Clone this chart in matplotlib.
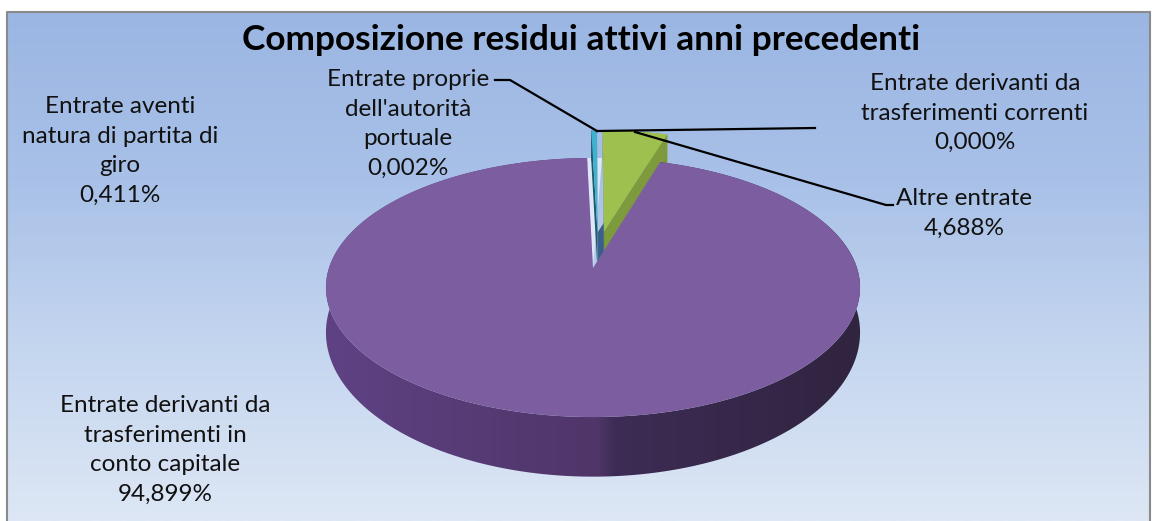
import numpy as np
import matplotlib
matplotlib.use("Agg")
import matplotlib.pyplot as plt
from matplotlib.colors import LinearSegmentedColormap
from matplotlib.patches import Polygon

title = "Composizione residui attivi anni precedenti"
categories = ["Altre entrate",
              "Entrate derivanti da\ntrasferimenti correnti",
              "Entrate proprie\ndell'autorità\nportuale",
              "Entrate derivanti da\ntrasferimenti in\nconto capitale",
              "Entrate aventi\nnatura di partita di\ngiro"]
values = [4.688, 0.000, 0.002, 94.899, 0.411]
top_colors = ["#9dc04f", "#c0504d", "#4f81bd", "#7c5ea0", "#3fb2d0"]
side_colors = ["#7d9a3c", "#8c3a38", "#3a5f8c", "#4f3568", "#1f5a6c"]
explode_u = [0.044, 0.02, 0.02, 0.0, 0.018]
explode_v = [0.297, 0.297, 0.297, 0.0, 0.297]
label_x = [964, 975, 408, 165, 120]
label_y = [213, 113, 124, 450, 151]

W, H = 1156, 521
CX, CY = 593, 268
R, B, K, D = 264, 126.6, 0.1506, 43.0

def project(u, v):
    s = 1 + K * v
    return CX + R * u / s, CY - B * v / s

def drop(v):
    return D / (1 + K * v) ** 2

fig = plt.figure(figsize=(W / 100, H / 100), dpi=100, facecolor="white")
ax = fig.add_axes([0, 0, 1, 1])
ax.axis("off")

cmap = LinearSegmentedColormap.from_list("bg", ["#9bb6e3", "#a9c1e8", "#c5d6ef", "#dde7f5"])
ax.imshow(np.linspace(0, 1, 256).reshape(-1, 1), cmap=cmap, aspect="auto",
          extent=(6.5, 1150, 521, 11.5), zorder=0)
ax.plot([6.5, 6.5, 1150, 1150], [521, 11.5, 11.5, 521], color="#8a8a8a", lw=1.5, zorder=1)

fractions = np.array(values) / sum(values) * 360
ends = np.cumsum(fractions)
starts = ends - fractions

# pale gap where the small slices are pulled out of the large one
big = 3
e1 = np.radians(ends[big])
e2 = np.radians(ends[-1])
g1 = project(np.sin(e1), np.cos(e1))
g2 = project(np.sin(e2), np.cos(e2))
ax.fill([CX, g1[0], g2[0] + 9], [CY, g1[1], g2[1]], color="#dfe7f6", lw=0, zorder=2)

wall_cmap = LinearSegmentedColormap.from_list(
    "wall", [(0, "#5f4284"), (0.51, "#4f3568"), (0.54, "#3d2c55"), (1, "#30243f")])

order = [1, 2, 0, 4, 3]
for z, i in enumerate(order):
    if values[i] <= 0:
        continue
    t = np.radians(np.linspace(starts[i], ends[i], max(2, int(fractions[i] * 2))))
    u = np.sin(t) + explode_u[i]
    v = np.cos(t) + explode_v[i]
    au, av = explode_u[i], explode_v[i]
    base = 3 + z * 3
    rx, ry = project(u, v)
    wall_x = np.r_[rx, rx[::-1]]
    wall_y = np.r_[ry, (ry + drop(v))[::-1]]
    if i == big:
        im = ax.imshow(np.linspace(0, 1, 256).reshape(1, -1), cmap=wall_cmap, aspect="auto",
                       extent=(rx.min() - 2, rx.max() + 2, 500, 100), zorder=base)
        im.set_clip_path(Polygon(np.c_[wall_x, wall_y], closed=True, transform=ax.transData))
    else:
        ax.fill(wall_x, wall_y, color=side_colors[i], lw=0, zorder=base)
    if explode_v[i] > 0:
        ax_, ay_ = project(au, av)
        for k in (0, -1):
            ax.fill([ax_, rx[k], rx[k], ax_],
                    [ay_, ry[k], ry[k] + drop(v[k]), ay_ + drop(av)],
                    color=side_colors[i], lw=0, zorder=base + 1)
    px, py = project(np.r_[au, u], np.r_[av, v])
    ax.fill(px, py, color=top_colors[i], lw=0, zorder=base + 2)

ax.set_xlim(0, W)
ax.set_ylim(H, 0)

leaders = [([597, 510, 495], [131, 80, 80]),
           ([597, 815], [131, 128]),
           ([635, 886, 893], [132, 205, 205])]
for lx, ly in leaders:
    ax.plot(lx, ly, color="black", lw=1.6, zorder=30)

for name, val, x, y in zip(categories, values, label_x, label_y):
    pct = f"{val:.3f}%".replace(".", ",")
    ax.text(x, y, name + "\n" + pct, ha="center", va="center", fontsize=17.5,
            family="Lato", color="#111111", linespacing=1.52, zorder=40)

ax.text(581.5, 40, title, ha="center", va="center", fontsize=25.4, family="Lato",
        fontweight="bold", color="black", zorder=40)

fig.savefig("out.png", dpi=100, facecolor="white")
